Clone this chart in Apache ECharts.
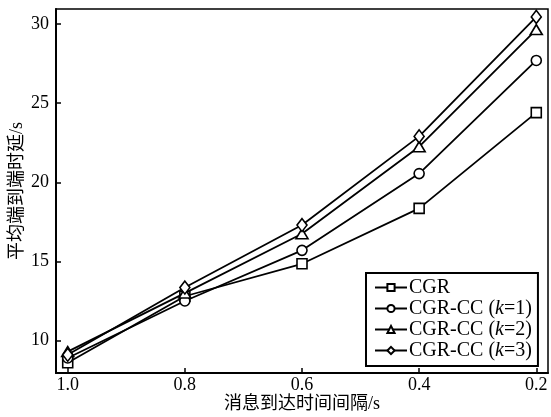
<!DOCTYPE html>
<html>
<head>
<meta charset="utf-8">
<script src="https://cdn.jsdelivr.net/npm/echarts@6/dist/echarts.min.js"></script>
<style>html,body{margin:0;padding:0;background:#fff}#c{width:551px;height:417px}</style>
</head>
<body>
<div id="c"></div>
<script>
var xValues = [1.0, 0.8, 0.6, 0.4, 0.2];
var xTicks = [1.0, 0.8, 0.6, 0.4, 0.2];
var yTicks = [10, 15, 20, 25, 30];
var cgr = [8.6, 12.8, 14.85, 18.35, 24.4];
var cc1 = [8.9, 12.5, 15.7, 20.55, 27.7];
var cc2 = [9.3, 13.0, 16.75, 22.25, 29.65];
var cc3 = [9.1, 13.35, 17.3, 22.9, 30.45];
var names = ['CGR', 'CGR-CC (k=1)', 'CGR-CC (k=2)', 'CGR-CC (k=3)'];
var symbols = ['rect', 'circle', 'triangle', 'diamond'];
var allData = [cgr, cc1, cc2, cc3];

var FONT = '"Liberation Serif", "Noto Sans CJK SC", serif';
var chart = echarts.init(document.getElementById('c'));
var series = allData.map(function (d, i) {
  return {
    name: names[i],
    type: 'line',
    data: xValues.map(function (x, j) { return [x, d[j]]; }),
    symbol: symbols[i],
    symbolSize: i === 3 ? [10, 13] : (i === 2 ? [12, 10] : 10),
    showAllSymbol: true,
    lineStyle: { color: '#000', width: 1.8 },
    itemStyle: { color: '#fff', borderColor: '#000', borderWidth: 1.6 },
    emphasis: { disabled: true },
    z: 2 + i
  };
});
chart.setOption({
  animation: false,
  backgroundColor: '#fff',
  grid: { left: 56, right: 3, top: 9, bottom: 44, outerBoundsMode: 'none', containLabel: false,
    show: true, borderColor: '#000', borderWidth: 1.5, backgroundColor: 'transparent' },
  xAxis: {
    type: 'value', inverse: true, min: 0.18, max: 1.02,
    name: '消息到达时间间隔/s', nameLocation: 'middle', nameGap: 22, nameMoveOverlap: false,
    nameTextStyle: { color: '#000', fontSize: 18, fontFamily: FONT },
    axisLine: { lineStyle: { color: '#000', width: 2 } },
    axisTick: { inside: true, length: 5, customValues: xTicks, lineStyle: { color: '#000', width: 1.5 } },
    axisLabel: { customValues: xTicks, margin: 3, color: '#000', fontSize: 18, fontFamily: FONT,
      formatter: function (v) { return v.toFixed(1); } },
    splitLine: { show: false }
  },
  yAxis: {
    type: 'value', min: 7.95, max: 30.95,
    name: '平均端到端时延/s', nameLocation: 'middle', nameGap: 30, nameMoveOverlap: false,
    nameTextStyle: { color: '#000', fontSize: 18, fontFamily: FONT },
    axisLine: { show: true, lineStyle: { color: '#000', width: 2 } },
    axisTick: { inside: true, length: 5, customValues: yTicks, lineStyle: { color: '#000', width: 1.5 } },
    axisLabel: { customValues: yTicks, margin: 7, color: '#000', fontSize: 18, fontFamily: FONT },
    splitLine: { show: false }
  },
  legend: {
    orient: 'vertical', left: 366, top: 273,
    backgroundColor: '#fff', borderColor: '#000', borderWidth: 2,
    padding: [4, 6, 5, 8], itemGap: 0, itemWidth: 32, itemHeight: 9,
    data: names.map(function (n) { return { name: n }; }),
    textStyle: { color: '#000', fontSize: 20, lineHeight: 21, fontFamily: FONT, padding: [0, 0, 0, -3],
      rich: { i: { fontStyle: 'italic', fontSize: 20, lineHeight: 21, fontFamily: FONT, color: '#000' } } },
    formatter: function (n) { return n.replace('k=', '{i|k}='); },
    selectedMode: false
  },
  series: series
});
</script>
</body>
</html>
